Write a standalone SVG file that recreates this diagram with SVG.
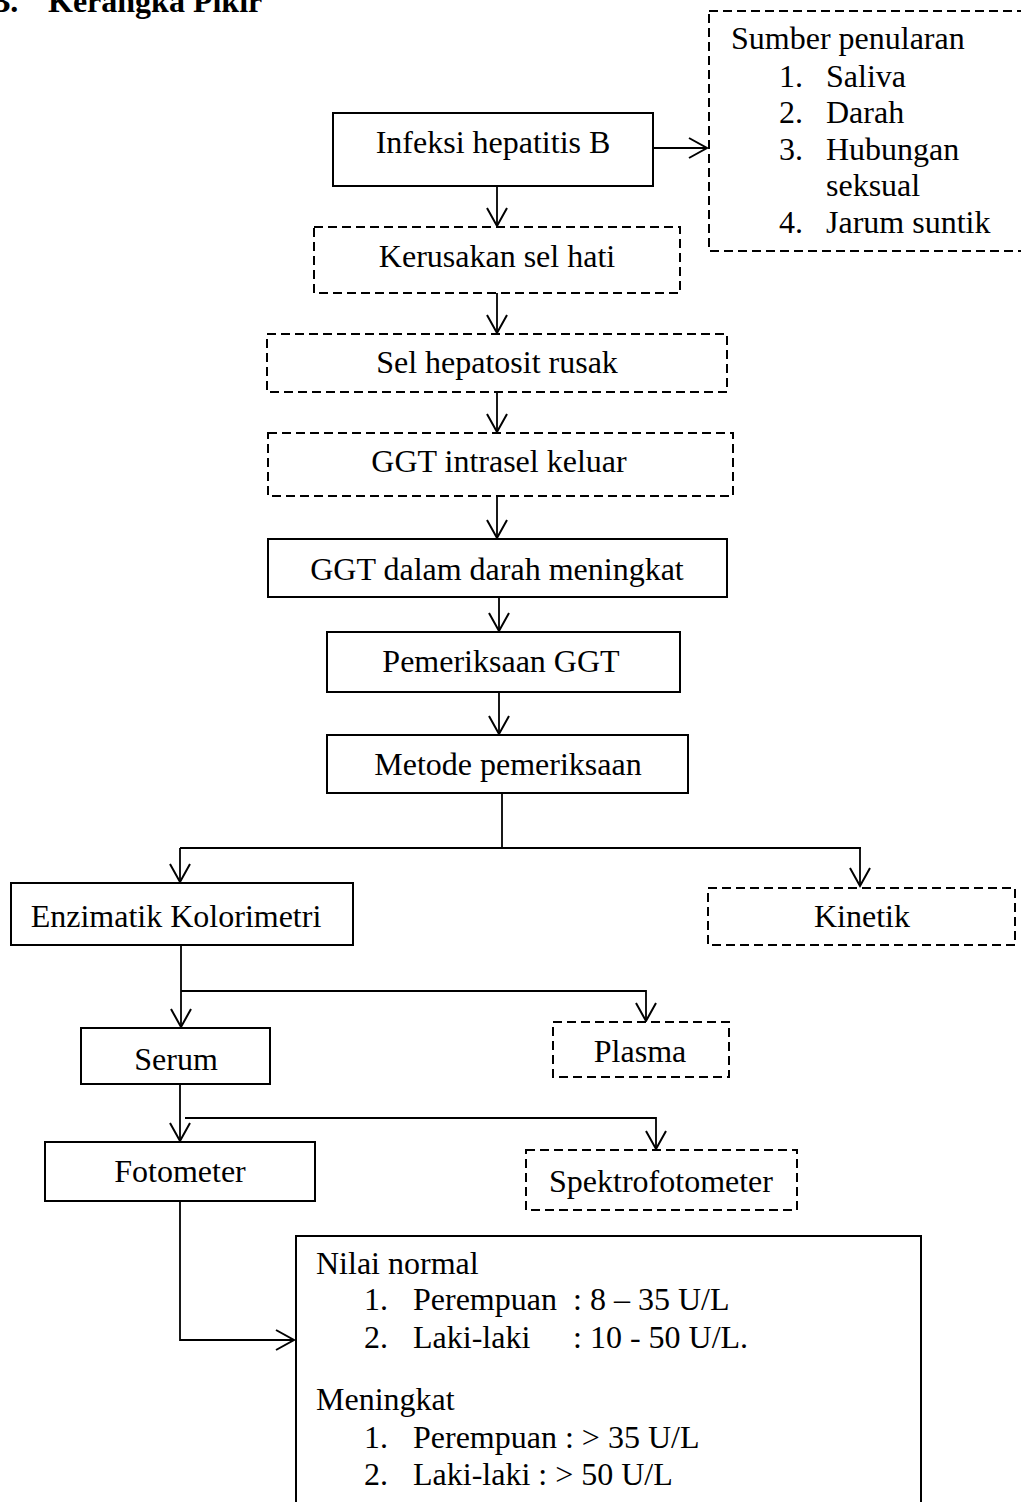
<svg xmlns="http://www.w3.org/2000/svg" width="1021" height="1502" viewBox="0 0 1021 1502">
<style>
text{font-family:"Liberation Serif","Times New Roman",serif;font-size:32px;fill:#000}
.c{text-anchor:middle}
.title{font-weight:bold}
.solid{fill:#fff;stroke:#000;stroke-width:2}
.dash{fill:#fff;stroke:#000;stroke-width:2;stroke-dasharray:9 5}
.ln{fill:none;stroke:#000;stroke-width:1.8}
</style>
<defs>
<marker id="arr" viewBox="-22 -13 24 26" refX="0" refY="0" markerWidth="24" markerHeight="26" markerUnits="userSpaceOnUse" orient="auto" overflow="visible">
<path d="M-18,-10 L0,0 L-18,10" fill="none" stroke="#000" stroke-width="2"/>
</marker>
</defs>
<rect width="1021" height="1502" fill="#fff"/>
<text class="title" x="-11" y="12">B.</text>
<text class="title" x="48" y="12">Kerangka Pikir</text>

<g id="connectors">
<line class="ln" x1="653" y1="148" x2="707" y2="148" marker-end="url(#arr)"/>
<line class="ln" x1="497" y1="186" x2="497" y2="226" marker-end="url(#arr)"/>
<line class="ln" x1="497" y1="293" x2="497" y2="333" marker-end="url(#arr)"/>
<line class="ln" x1="497" y1="392" x2="497" y2="432" marker-end="url(#arr)"/>
<line class="ln" x1="497" y1="496" x2="497" y2="538" marker-end="url(#arr)"/>
<line class="ln" x1="499" y1="597" x2="499" y2="631" marker-end="url(#arr)"/>
<line class="ln" x1="499" y1="692" x2="499" y2="734" marker-end="url(#arr)"/>
<polyline class="ln" points="502,793 502,848"/>
<line class="ln" x1="180" y1="848" x2="861" y2="848"/>
<line class="ln" x1="180" y1="848" x2="180" y2="882" marker-end="url(#arr)"/>
<line class="ln" x1="860" y1="848" x2="860" y2="886" marker-end="url(#arr)"/>
<line class="ln" x1="181" y1="945" x2="181" y2="1027" marker-end="url(#arr)"/>
<polyline class="ln" points="181,991 646,991 646,1021" marker-end="url(#arr)"/>
<line class="ln" x1="180" y1="1084" x2="180" y2="1141" marker-end="url(#arr)"/>
<polyline class="ln" points="185,1118 656,1118 656,1149" marker-end="url(#arr)"/>
<polyline class="ln" points="180,1201 180,1340 294,1340" marker-end="url(#arr)"/>
</g>

<g id="sumber">
<rect class="dash" x="709" y="11" width="340" height="240"/>
<text x="731" y="49">Sumber penularan</text>
<text x="779" y="87">1.</text><text x="826" y="87">Saliva</text>
<text x="779" y="123">2.</text><text x="826" y="123">Darah</text>
<text x="779" y="160">3.</text><text x="826" y="160">Hubungan</text>
<text x="826" y="196">seksual</text>
<text x="779" y="233">4.</text><text x="826" y="233">Jarum suntik</text>
</g>

<g id="infeksi">
<rect class="solid" x="333" y="113" width="320" height="73"/>
<text class="c" x="493" y="153">Infeksi hepatitis B</text>
</g>
<g id="kerusakan">
<rect class="dash" x="314" y="227" width="366" height="66"/>
<text class="c" x="497" y="267">Kerusakan sel hati</text>
</g>
<g id="hepatosit">
<rect class="dash" x="267" y="334" width="460" height="58"/>
<text class="c" x="497" y="373">Sel hepatosit rusak</text>
</g>
<g id="intrasel">
<rect class="dash" x="268" y="433" width="465" height="63"/>
<text class="c" x="499" y="472">GGT intrasel keluar</text>
</g>
<g id="ggtdarah">
<rect class="solid" x="268" y="539" width="459" height="58"/>
<text class="c" x="497" y="580">GGT dalam darah meningkat</text>
</g>
<g id="pemeriksaan">
<rect class="solid" x="327" y="632" width="353" height="60"/>
<text class="c" x="501" y="672">Pemeriksaan GGT</text>
</g>
<g id="metode">
<rect class="solid" x="327" y="735" width="361" height="58"/>
<text class="c" x="508" y="775">Metode pemeriksaan</text>
</g>
<g id="enzimatik">
<rect class="solid" x="11" y="883" width="342" height="62"/>
<text class="c" x="176" y="927">Enzimatik Kolorimetri</text>
</g>
<g id="kinetik">
<rect class="dash" x="708" y="888" width="307" height="57"/>
<text class="c" x="862" y="927">Kinetik</text>
</g>
<g id="serum">
<rect class="solid" x="81" y="1028" width="189" height="56"/>
<text class="c" x="176" y="1070">Serum</text>
</g>
<g id="plasma">
<rect class="dash" x="553" y="1022" width="176" height="55"/>
<text class="c" x="640" y="1062">Plasma</text>
</g>
<g id="fotometer">
<rect class="solid" x="45" y="1142" width="270" height="59"/>
<text class="c" x="180" y="1182">Fotometer</text>
</g>
<g id="spektro">
<rect class="dash" x="526" y="1150" width="271" height="60"/>
<text class="c" x="661" y="1192">Spektrofotometer</text>
</g>
<g id="nilai">
<rect class="solid" x="296" y="1236" width="625" height="300"/>
<text x="316" y="1274">Nilai normal</text>
<text x="364" y="1310">1.</text><text x="413" y="1310">Perempuan</text><text x="573" y="1310">: 8 – 35 U/L</text>
<text x="364" y="1348">2.</text><text x="413" y="1348">Laki-laki</text><text x="573" y="1348">: 10 - 50 U/L.</text>
<text x="316" y="1410">Meningkat</text>
<text x="364" y="1448">1.</text><text x="413" y="1448">Perempuan : &gt; 35 U/L</text>
<text x="364" y="1485">2.</text><text x="413" y="1485">Laki-laki : &gt; 50 U/L</text>
</g>
</svg>
